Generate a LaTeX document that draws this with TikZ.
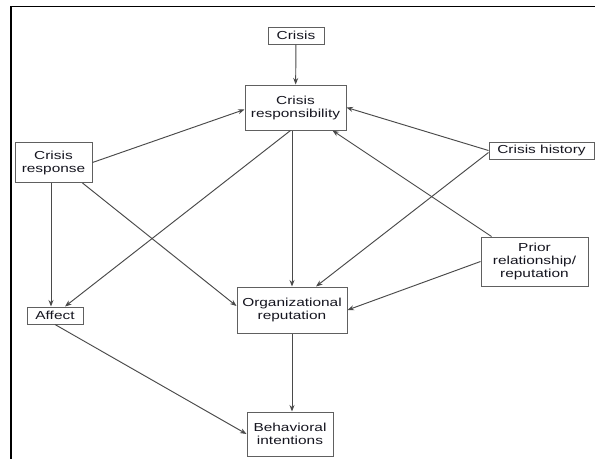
\documentclass[tikz,border=0pt]{standalone}
\usepackage{fontspec}
\setmainfont[FakeStretch=1.33]{Liberation Sans}
\usetikzlibrary{arrows.meta}
\definecolor{linegray}{HTML}{4A4A4A}
\definecolor{boxgray}{HTML}{606060}
\definecolor{txt}{HTML}{15151F}
\begin{document}
\begin{tikzpicture}[x=1pt, y=-1pt,
  box/.style={rectangle, draw=boxgray, line width=1pt, text=txt, align=center, inner sep=0pt,
    font=\fontsize{11.6}{13}\selectfont},
  arr/.style={draw=linegray, line width=0.95pt, -{Stealth[length=6.5pt, width=5pt]}}]
  \useasboundingbox (0,0) rectangle (595,459);
  \draw[line width=1.4pt] (595,6.5) -- (11,6.5) -- (11,459);
  \node[box, minimum width=56pt, minimum height=17pt] (crisis) at (296, 35.5) {Crisis};
  \node[box, minimum width=101pt, minimum height=45pt] (resp) at (295.5, 107.5) {Crisis\\responsibility};
  \node[box, minimum width=77pt, minimum height=40pt] (response) at (53.5, 162.5) {Crisis\\response};
  \node[box, minimum width=105pt, minimum height=17pt] (history) at (541.5, 150.5) {Crisis history};
  \node[box, minimum width=107pt, minimum height=49pt] (prior) at (534.5, 261.5) {Prior\\relationship/\\reputation};
  \node[box, minimum width=110pt, minimum height=46pt] (org) at (292, 310) {Organizational\\reputation};
  \node[box, minimum width=56pt, minimum height=17pt] (affect) at (55, 315.5) {Affect};
  \node[box, minimum width=86pt, minimum height=44pt] (behav) at (290, 434) {Behavioral\\intentions};
  % paths into crisis responsibility
  \draw[arr] (crisis) -- (resp);
  \draw[arr] (response.east) -- ([yshift=-2pt]resp.west);
  \draw[arr] (history.west) -- (resp.east);
  \draw[arr] ([xshift=11pt]prior.north west) -- ([xshift=-14pt]resp.south east);
  % paths into organizational reputation
  \draw[arr] (org.north |- resp.south) -- (org.north);
  \draw[arr] ([yshift=-2pt]history.west) -- ([xshift=24pt]org.north);
  \draw[arr] (prior.west) -- (org.east);
  \draw[arr] ([xshift=-10pt]response.south east) -- ([yshift=4pt]org.west);
  % paths into affect
  \draw[arr] ([xshift=-5pt]resp.south) -- ([xshift=10pt]affect.north);
  \draw[arr] ([xshift=-2.5pt]response.south) -- ([xshift=-2.5pt]response.south |- affect.north);
  % paths into behavioral intentions
  \draw[arr] (affect.south) -- (behav.west);
  \draw[arr] (org.south) -- (org.south |- behav.north);
\end{tikzpicture}
\end{document}
